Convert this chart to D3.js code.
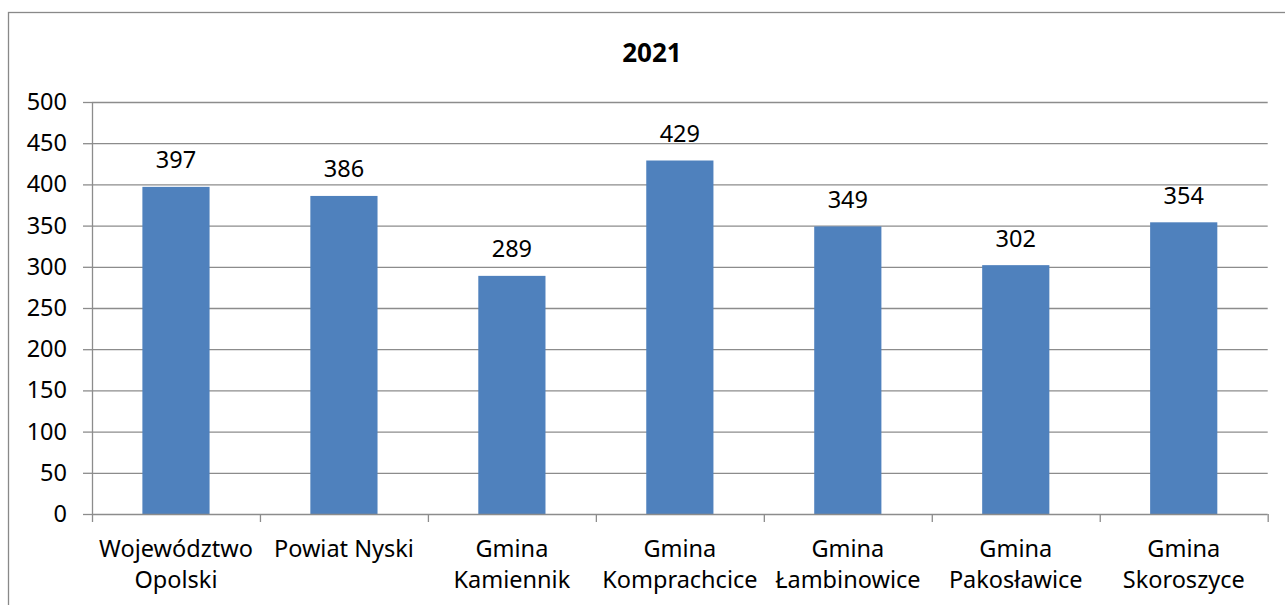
<!DOCTYPE html>
<html>
<head>
<meta charset="utf-8">
<script src="https://cdn.jsdelivr.net/npm/d3@7"></script>
<style>
  body { margin: 0; background: #fff; }
  text { font-family: "Noto Sans", sans-serif; fill: #000; }
</style>
</head>
<body>
<div id="chart"></div>
<script>
var title = "2021";
var categories = ["Województwo\nOpolski", "Powiat Nyski", "Gmina\nKamiennik", "Gmina\nKomprachcice",
                  "Gmina\nŁambinowice", "Gmina\nPakosławice", "Gmina\nSkoroszyce"];
var values = [397, 386, 289, 429, 349, 302, 354];
var yTicks = [0, 50, 100, 150, 200, 250, 300, 350, 400, 450, 500];

var margin = {top: 102, right: 17.3, bottom: 91, left: 92},
    width = 1285 - margin.left - margin.right,
    height = 605 - margin.top - margin.bottom;

var svg = d3.select("#chart")
  .append("svg")
    .attr("width", 1285)
    .attr("height", 605);

// outer chart border (right and bottom run off the picture)
svg.append("rect")
  .attr("x", 8.5).attr("y", 12.5)
  .attr("width", 1290).attr("height", 600)
  .attr("fill", "none")
  .attr("stroke", "#898989")
  .attr("stroke-width", 1.3);

svg.append("text")
  .attr("x", 652).attr("y", 62)
  .attr("text-anchor", "middle")
  .attr("font-weight", "bold")
  .attr("font-size", 26)
  .text(title);

var g = svg.append("g")
  .attr("transform", "translate(" + margin.left + "," + margin.top + ")");

var x = d3.scaleBand()
  .domain(categories)
  .range([0, width])
  .paddingInner(0.6)
  .paddingOuter(0.3);

var y = d3.scaleLinear()
  .domain([0, 500])
  .range([height, 0]);

// gridlines
g.selectAll(".grid")
  .data(yTicks.slice(1))
  .enter().append("line")
    .attr("x1", 0).attr("x2", width)
    .attr("y1", function(d) { return y(d) + 0.5; })
    .attr("y2", function(d) { return y(d) + 0.5; })
    .attr("stroke", "#8c8c8c")
    .attr("stroke-width", 1.3);

// y axis
var yAxis = g.append("g")
  .call(d3.axisLeft(y).tickValues(yTicks).tickSize(9).tickPadding(16));
yAxis.selectAll("path, line").attr("stroke", "#8c8c8c").attr("stroke-width", 1.3);
yAxis.select(".domain").attr("d", "M0.5," + height + "V0");
yAxis.selectAll("text")
  .attr("font-size", 23.5)
  .attr("font-family", "Noto Sans")
  .attr("fill", "#000");

// bars
g.selectAll(".bar")
  .data(values)
  .enter().append("rect")
    .attr("x", function(d, i) { return x(categories[i]); })
    .attr("y", function(d) { return y(d); })
    .attr("width", x.bandwidth())
    .attr("height", function(d) { return height - y(d); })
    .attr("fill", "#4f81bd");

// x axis line and boundary ticks
g.append("line")
  .attr("x1", 0).attr("x2", width)
  .attr("y1", height + 0.5).attr("y2", height + 0.5)
  .attr("stroke", "#8c8c8c")
  .attr("stroke-width", 1.3);

var bounds = categories.map(function(c) { return x(c) - x.step() * x.paddingOuter(); }).concat([width]);
g.selectAll(".xtick")
  .data(bounds)
  .enter().append("line")
    .attr("x1", function(d) { return d + 0.5; })
    .attr("x2", function(d) { return d + 0.5; })
    .attr("y1", height).attr("y2", height + 8)
    .attr("stroke", "#8c8c8c")
    .attr("stroke-width", 1.3);

// category labels
var labels = g.selectAll(".xlabel")
  .data(categories)
  .enter().append("text")
    .attr("text-anchor", "middle")
    .attr("font-size", 23.5)
    .attr("transform", function(d) {
      return "translate(" + (x(d) + x.bandwidth() / 2) + "," + (height + 43) + ")";
    });
labels.selectAll("tspan")
  .data(function(d) { return d.split("\n"); })
  .enter().append("tspan")
    .attr("x", 0)
    .attr("dy", function(d, i) { return i === 0 ? 0 : 31; })
    .text(function(d) { return d; });

// value labels
g.selectAll(".val")
  .data(values)
  .enter().append("text")
    .attr("x", function(d, i) { return x(categories[i]) + x.bandwidth() / 2; })
    .attr("y", function(d) { return y(d) - 18.5; })
    .attr("text-anchor", "middle")
    .attr("font-size", 23.5)
    .text(function(d) { return d; });
</script>
</body>
</html>
